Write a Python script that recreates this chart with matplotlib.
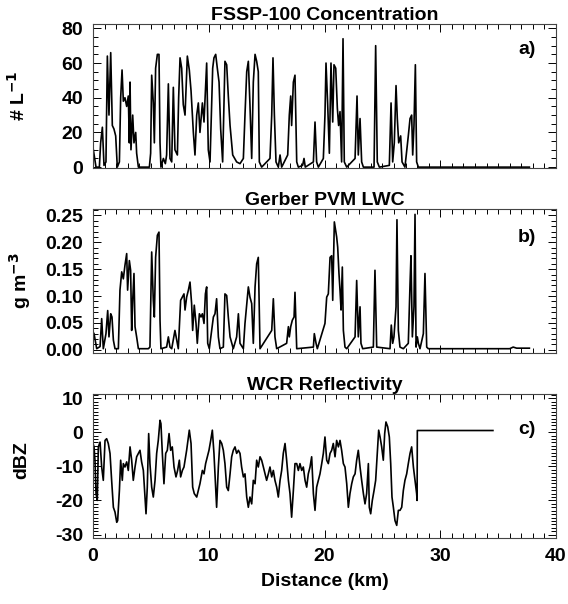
import matplotlib
matplotlib.use("Agg")
import matplotlib.pyplot as plt
from matplotlib.ticker import MultipleLocator

plt.rcParams['font.family'] = ['Liberation Sans', 'DejaVu Sans']
plt.rcParams['font.weight'] = 'bold'
plt.rcParams['font.size'] = 14
plt.rcParams['axes.unicode_minus'] = False
plt.rcParams['mathtext.default'] = 'bf'

# Panel a: FSSP-100 concentration (# L^-1) vs distance (km)
dist_a = [0.0, 0.03, 0.26, 0.55, 0.66, 0.81, 0.95, 1.12, 1.24, 1.38, 1.53, 1.67, 1.81, 1.96, 2.10,
          2.28, 2.39, 2.51, 2.62, 2.76, 2.91, 3.05, 3.14, 3.20, 3.28, 3.43, 3.54, 3.69, 3.77, 3.92,
          4.87, 4.98, 5.07, 5.21, 5.30, 5.41, 5.56, 5.70, 5.79, 5.87, 6.08, 6.25, 6.36, 6.51, 6.65,
          6.80, 6.94, 7.08, 7.29, 7.40, 7.52, 7.66, 7.80, 7.95, 8.15, 8.32, 8.47, 8.67, 8.81, 8.96,
          9.10, 9.24, 9.45, 9.59, 9.82, 9.96, 10.11, 10.34, 10.45, 10.60, 10.74, 10.89, 11.03, 11.20,
          11.40, 11.55, 11.69, 11.84, 12.07, 12.41, 12.70, 12.99, 13.13, 13.28, 13.42, 13.56, 13.71,
          13.85, 14.00, 14.14, 14.28, 14.37, 14.57, 15.29, 15.44, 15.55, 15.67, 15.81, 16.01, 16.16,
          16.30, 16.82, 16.96, 17.08, 17.16, 17.31, 17.45, 17.60, 17.74, 18.11, 18.23, 18.34, 19.04,
          19.18, 19.32, 19.47, 19.90, 20.04, 20.13, 20.27, 20.42, 20.56, 20.71, 20.82, 20.97, 21.11,
          21.22, 21.34, 21.48, 21.60, 21.71, 21.92, 22.64, 22.81, 22.92, 23.07, 23.21, 23.36, 24.28,
          24.42, 24.56, 24.74, 25.60, 25.75, 25.89, 26.03, 26.18, 26.29, 26.41, 26.58, 26.70, 26.95,
          27.24, 27.39, 27.53, 27.62, 27.73, 27.85, 27.96, 28.11, 37.70]
conc_a = [11, 10, 0, 0, 14, 23, 1, 3, 64, 30, 66, 24, 22, 18, 0,
          3, 40, 56, 38, 40, 35, 41, 14, 49, 10, 30, 14, 20, 8, 0,
          0, 8, 53, 37, 14, 57, 65, 65, 14, 0, 5, 2, 7, 48, 5,
          3, 46, 10, 7, 40, 63, 57, 36, 30, 64, 56, 44, 20, 7, 30,
          37, 20, 37, 26, 60, 10, 3, 57, 63, 65, 57, 49, 22, 3,
          61, 59, 41, 24, 7, 3, 2, 5, 30, 55, 61, 36, 5,
          49, 65, 61, 55, 3, 0, 5, 30, 63, 30, 3, 0, 7,
          0, 7, 30, 41, 24, 49, 53, 3, 0, 1, 5, 0, 3,
          26, 3, 0, 5, 30, 60, 37, 8, 60, 26, 59, 57, 34,
          24, 32, 3, 74, 3, 0, 5, 41, 7, 28, 3, 0, 0,
          70, 3, 0, 1, 37, 3, 14, 47, 28, 14, 18, 3, 0,
          18, 28, 30, 7, 24, 59, 3, 0, 0]

# Panel b: Gerber PVM liquid water content (g m^-3)
dist_b = [0.0, 0.09, 0.32, 0.61, 0.75, 0.89, 1.12, 1.27, 1.38, 1.53, 1.64, 1.76, 1.90, 2.19, 2.33,
          2.48, 2.62, 2.76, 2.91, 2.99, 3.14, 3.25, 3.34, 3.43, 3.54, 3.63, 3.77, 3.92, 4.78, 4.92,
          5.07, 5.21, 5.30, 5.41, 5.56, 5.70, 5.79, 5.87, 6.36, 6.51, 6.65, 6.80, 7.08, 7.23, 7.37,
          7.57, 7.72, 7.86, 7.95, 8.09, 8.24, 8.38, 8.52, 8.61, 8.75, 8.90, 9.01, 9.19, 9.33, 9.45,
          9.59, 9.71, 9.82, 9.91, 10.05, 10.25, 10.40, 10.54, 10.68, 10.83, 10.97, 11.26, 11.40,
          11.55, 11.69, 11.84, 12.12, 12.41, 12.56, 12.70, 12.99, 13.13, 13.42, 13.56, 13.71, 13.85,
          14.00, 14.14, 14.28, 14.43, 15.44, 15.58, 15.72, 15.87, 16.73, 16.88, 16.96, 17.08, 17.22,
          17.37, 17.45, 17.60, 19.04, 19.12, 19.27, 19.38, 20.04, 20.19, 20.33, 20.48, 20.62, 20.71,
          20.85, 20.96, 21.05, 21.14, 21.25, 21.34, 21.43, 21.54, 21.63, 21.77, 21.92, 22.64, 22.78,
          22.92, 23.07, 23.15, 23.30, 24.22, 24.36, 24.51, 25.66, 25.77, 25.89, 26.00, 26.18, 26.26,
          26.38, 26.52, 26.81, 27.24, 27.39, 27.47, 27.59, 27.73, 27.82, 27.91, 28.02, 28.11, 28.25,
          28.54, 28.68, 28.83, 28.97, 36.00, 36.30, 36.60, 37.70]
lwc_b = [0.033, 0.030, 0.002, 0.006, 0.058, 0.002, 0.030, 0.073, 0.024, 0.067, 0.061, 0.018, 0.002, 0.002, 0.111,
         0.145, 0.132, 0.157, 0.179, 0.111, 0.166, 0.148, 0.036, 0.092, 0.142, 0.043, 0.024, 0.002, 0.002, 0.005,
         0.182, 0.092, 0.061, 0.172, 0.213, 0.219, 0.055, 0.002, 0.005, 0.024, 0.005, 0.002, 0.036, 0.018, 0.002,
         0.092, 0.098, 0.104, 0.074, 0.098, 0.111, 0.126, 0.086, 0.036, 0.083, 0.049, 0.012, 0.067, 0.061, 0.067,
         0.049, 0.104, 0.117, 0.012, 0.002, 0.036, 0.061, 0.067, 0.095, 0.024, 0.002, 0.005, 0.104,
         0.101, 0.061, 0.024, 0.002, 0.024, 0.067, 0.012, 0.002, 0.049, 0.117, 0.098, 0.086, 0.012,
         0.117, 0.160, 0.172, 0.002, 0.036, 0.095, 0.024, 0.002, 0.012, 0.043, 0.024, 0.043, 0.055,
         0.061, 0.107, 0.002, 0.005, 0.030, 0.012, 0.002, 0.049, 0.098, 0.104, 0.172, 0.175, 0.092,
         0.238, 0.222, 0.210, 0.191, 0.142, 0.111, 0.074, 0.154, 0.036, 0.005, 0.002, 0.024, 0.129,
         0.024, 0.080, 0.012, 0.002, 0.005, 0.148, 0.005, 0.002, 0.046, 0.012, 0.024, 0.080, 0.242,
         0.036, 0.005, 0.002, 0.012, 0.123, 0.175, 0.024, 0.080, 0.252, 0.005, 0.024, 0.012, 0.002,
         0.030, 0.142, 0.005, 0.002, 0.002, 0.005, 0.003, 0.003]

# Panel c: WCR reflectivity (dBZ)
dist_c = [0.0, 0.09, 0.17, 0.26, 0.37, 0.46, 0.61, 0.75, 0.89, 1.04, 1.18, 1.32, 1.47, 1.61, 1.76,
          1.90, 2.05, 2.13, 2.28, 2.39, 2.53, 2.62, 2.76, 2.91, 3.05, 3.20, 3.34, 3.48, 3.63, 3.77,
          3.92, 4.06, 4.20, 4.35, 4.49, 4.58, 4.69, 4.81, 4.92, 5.07, 5.21, 5.36, 5.50, 5.64, 5.79,
          5.87, 5.99, 6.13, 6.28, 6.42, 6.57, 6.71, 6.85, 7.00, 7.17, 7.31, 7.46, 7.57, 7.72, 7.86,
          8.09, 8.32, 8.47, 8.61, 8.75, 8.96, 9.10, 9.24, 9.45, 9.59, 9.73, 9.88, 10.02, 10.17, 10.31,
          10.45, 10.60, 10.68, 10.83, 10.97, 11.12, 11.26, 11.40, 11.55, 11.69, 11.84, 11.98, 12.12,
          12.27, 12.41, 12.56, 12.70, 12.84, 12.99, 13.13, 13.28, 13.42, 13.56, 13.71, 13.85, 14.00,
          14.14, 14.28, 14.43, 14.57, 14.72, 14.86, 15.00, 15.15, 15.29, 15.44, 15.58, 15.72, 15.87,
          16.01, 16.16, 16.30, 16.44, 16.59, 16.73, 16.88, 17.02, 17.16, 17.31, 17.45, 17.60, 17.74,
          17.88, 18.03, 18.17, 18.32, 18.46, 18.60, 18.75, 18.89, 19.04, 19.18, 19.32, 19.47, 19.61,
          19.76, 19.90, 20.04, 20.19, 20.33, 20.48, 20.62, 20.76, 20.91, 21.05, 21.20, 21.34, 21.48,
          21.63, 21.77, 21.92, 22.06, 22.20, 22.35, 22.49, 22.64, 22.78, 22.92, 23.07, 23.21, 23.36,
          23.50, 23.64, 23.79, 23.87, 23.99, 24.13, 24.28, 24.42, 24.56, 24.68, 24.80, 24.94, 25.08,
          25.20, 25.31, 25.46, 25.60, 25.72, 25.83, 25.95, 26.09, 26.24, 26.38, 26.52, 26.67, 26.81,
          26.95, 27.10, 27.24, 27.39, 27.53, 27.68, 27.82, 27.96, 28.00, 28.02, 34.55]
dbz_c = [-3.3, -4.3, -8.2, -18.0, -20.0, -4.3, -2.9, -10.2, -14.1, -2.4, -1.9, -3.3, -6.2, -14.1, -22.0,
         -23.4, -26.4, -25.9, -17.1, -8.2, -14.1, -9.2, -10.2, -8.7, -11.2, -4.3, -8.2, -14.1, -10.2, -7.2,
         -6.2, -5.3, -8.7, -11.2, -19.0, -23.9, -16.1, -0.4, -9.2, -16.1, -19.0, -14.1, -6.2, -2.4, 3.5,
         2.5, -6.2, -15.1, -6.2, -5.3, -0.4, -5.3, -4.3, -10.2, -13.1, -11.2, -8.2, -13.1, -11.2, -10.2,
         -5.3, 0.6, -3.3, -16.1, -18.0, -19.0, -17.1, -15.1, -11.2, -12.2, -9.2, -7.2, -5.3, -2.4, 0.6,
         -6.2, -16.1, -22.0, -10.2, -2.4, -3.3, -5.3, -9.2, -16.1, -17.1, -12.2, -7.2, -5.3,
         -4.3, -6.2, -5.3, -6.2, -10.2, -13.1, -12.2, -19.0, -22.0, -19.0, -21.0, -14.1, -15.1,
         -8.2, -10.2, -7.2, -8.2, -10.2, -12.2, -14.1, -12.2, -10.2, -13.1, -11.2, -14.1, -16.1,
         -19.0, -14.1, -11.2, -6.2, -3.3, -8.2, -14.1, -18.0, -24.9, -17.1, -9.2, -9.2, -11.2,
         -9.2, -11.2, -10.2, -14.1, -16.1, -12.2, -10.2, -7.2, -18.0, -22.9, -16.1, -14.1, -12.2,
         -9.2, -6.2, -1.4, -8.2, -9.2, -6.2, -5.3, -3.3, -7.2, -2.4, -4.3, -2.4, -5.3,
         -9.2, -10.2, -15.1, -22.0, -18.0, -15.1, -13.1, -12.2, -8.2, -5.3, -10.2, -14.1, -18.0,
         -21.0, -18.0, -9.2, -22.0, -23.9, -20.0, -17.1, -14.1, -6.2, 0.6, -1.4, -4.3, -8.2,
         -0.4, 3.0, 1.6, -1.4, -9.2, -19.0, -22.0, -25.9, -27.3, -22.9, -22.9, -22.0, -17.1,
         -14.1, -12.2, -9.2, -6.2, -4.3, -10.2, -14.1, -18.0, -20.0, 0.5, 0.5]

titles = ['FSSP-100 Concentration', 'Gerber PVM LWC', 'WCR Reflectivity']
ylabels = ['# L$^{-1}$', 'g m$^{-3}$', 'dBZ']
panel_tags = ['a)', 'b)', 'c)']

W, H = 568, 604
fig = plt.figure(figsize=(W / 100, H / 100), dpi=100)
left, width, height = 93 / W, 463 / W, 144 / H
bottoms = [1 - 168 / H, 1 - 353 / H, 1 - 538 / H]
axes = [fig.add_axes([left, b, width, height]) for b in bottoms]

series = [(dist_a, conc_a), (dist_b, lwc_b), (dist_c, dbz_c)]
label_x = [18, 20, 22]
label_dy = [0, 0, 6]
tag_y = [0.82, 0.80, 0.75]
for i, (ax, (x, y)) in enumerate(zip(axes, series)):
    ax.plot(x, y, color='black', lw=1.2)
    ax.set_xlim(0, 40)
    ax.set_title(titles[i], fontsize=14, fontweight='bold', pad=2)
    ax.text(0.918, tag_y[i], panel_tags[i], transform=ax.transAxes,
            fontsize=14, fontweight='bold', va='center')
    pos = ax.get_position()
    fig.text(label_x[i] / W, (pos.y0 + pos.y1) / 2 + label_dy[i] / H, ylabels[i], rotation=90,
             ha='center', va='center', fontsize=14, fontweight='bold')
    ax.xaxis.set_major_locator(MultipleLocator(10))
    ax.xaxis.set_minor_locator(MultipleLocator(1))
    ax.tick_params(which='both', direction='in', top=True, right=True, labelsize=14, width=0.7)
    ax.tick_params(which='major', length=6)
    ax.tick_params(which='minor', length=3.5)
    ax.tick_params(axis='y', pad=7)
    ax.tick_params(axis='x', pad=7)
    for s in ax.spines.values():
        s.set_linewidth(0.8)
        s.set_color('#444444')

# panel a
axes[0].set_ylim(-0.5, 82.5)
axes[0].yaxis.set_major_locator(MultipleLocator(20))
axes[0].yaxis.set_minor_locator(MultipleLocator(5))
axes[0].set_xticklabels([])

# panel b
axes[1].set_ylim(-0.006, 0.262)
axes[1].yaxis.set_major_locator(MultipleLocator(0.05))
axes[1].yaxis.set_minor_locator(MultipleLocator(0.01))
axes[1].yaxis.set_major_formatter(plt.FormatStrFormatter('%.2f'))
axes[1].set_xticklabels([])

# panel c
axes[2].set_ylim(-31, 11.2)
axes[2].yaxis.set_major_locator(MultipleLocator(10))
axes[2].yaxis.set_minor_locator(MultipleLocator(1))
axes[2].set_xlabel('Distance (km)', fontsize=14, fontweight='bold', labelpad=6)

for ax in axes:
    for lbl in ax.get_xticklabels() + ax.get_yticklabels():
        lbl.set_fontweight('bold')

fig.savefig('out.png', dpi=100)
